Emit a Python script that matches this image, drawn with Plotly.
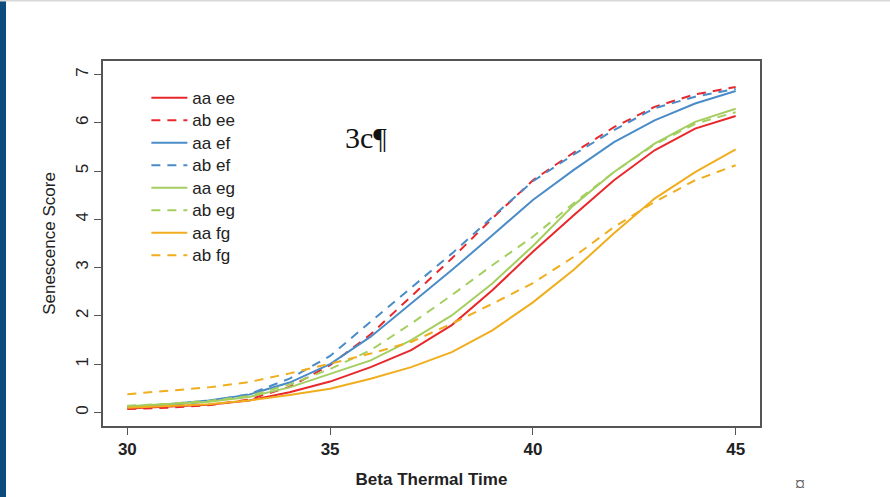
import plotly.graph_objects as go

x_vals = list(range(30, 46))

aa_ee = [0.08, 0.12, 0.16, 0.25, 0.42, 0.64, 0.94, 1.29, 1.81, 2.53, 3.33, 4.08, 4.81, 5.43, 5.88, 6.14]
ab_ee = [0.07, 0.10, 0.15, 0.27, 0.53, 0.98, 1.62, 2.40, 3.19, 4.02, 4.81, 5.38, 5.91, 6.33, 6.59, 6.74]
aa_ef = [0.12, 0.17, 0.25, 0.37, 0.62, 1.00, 1.57, 2.26, 2.95, 3.67, 4.40, 5.02, 5.60, 6.05, 6.40, 6.66]
ab_ef = [0.12, 0.15, 0.23, 0.38, 0.70, 1.17, 1.88, 2.58, 3.29, 4.05, 4.79, 5.34, 5.85, 6.30, 6.54, 6.70]
aa_eg = [0.13, 0.17, 0.22, 0.32, 0.52, 0.80, 1.08, 1.50, 2.01, 2.67, 3.45, 4.29, 4.98, 5.57, 6.02, 6.29]
ab_eg = [0.14, 0.18, 0.24, 0.34, 0.58, 0.90, 1.29, 1.84, 2.43, 3.05, 3.64, 4.33, 4.98, 5.55, 5.98, 6.22]
aa_fg = [0.10, 0.13, 0.17, 0.25, 0.36, 0.49, 0.70, 0.94, 1.25, 1.70, 2.28, 2.95, 3.71, 4.43, 4.98, 5.45]
ab_fg = [0.38, 0.45, 0.52, 0.63, 0.81, 1.01, 1.22, 1.46, 1.84, 2.25, 2.68, 3.22, 3.84, 4.36, 4.81, 5.12]

series_names = ["aa ee", "ab ee", "aa ef", "ab ef", "aa eg", "ab eg", "aa fg", "ab fg"]
series_values = [aa_ee, ab_ee, aa_ef, ab_ef, aa_eg, ab_eg, aa_fg, ab_fg]
series_colors = ["#E8282C", "#E8282C", "#4A8CC8", "#4A8CC8", "#A4CF60", "#A4CF60", "#F0AE1E", "#F0AE1E"]
series_dash = ["solid", "9px,7px", "solid", "9px,7px", "solid", "9px,7px", "solid", "9px,7px"]

x_ticks = [30, 35, 40, 45]
y_ticks = [0, 1, 2, 3, 4, 5, 6, 7]

fig = go.Figure()
for name, vals, col, dash in zip(series_names, series_values, series_colors, series_dash):
    fig.add_trace(go.Scatter(x=x_vals, y=vals, mode="lines",
                             name='<span style="font-size:17px">' + name + '</span>',
                             line=dict(color=col, width=2, dash=dash)))

axis_col = "#555555"
font_fam = "Liberation Sans, Arial, sans-serif"

fig.update_layout(
    width=890, height=497,
    margin=dict(l=103, r=130, t=61, b=71),
    paper_bgcolor="white", plot_bgcolor="white",
    font=dict(family=font_fam, size=17, color="#222222"),
    showlegend=True,
    legend=dict(x=0.066, y=0.944, xanchor="left", yanchor="top",
                bgcolor="rgba(0,0,0,0)", borderwidth=0,
                font=dict(family=font_fam, size=15, color="#222222"),
                tracegroupgap=0, itemwidth=36),
    xaxis=dict(range=[29.4, 45.6], tickvals=x_ticks, ticktext=[str(t) for t in x_ticks],
               showgrid=False, zeroline=False, showline=True, mirror=True,
               linecolor=axis_col, linewidth=1.5, ticks="outside", ticklen=7,
               tickwidth=1.3, tickcolor=axis_col,
               tickfont=dict(family=font_fam, size=17, color="#222222", weight="bold"),
               title=dict(text="Beta Thermal Time", standoff=15,
                          font=dict(family=font_fam, size=17, color="#222222", weight="bold"))),
    yaxis=dict(range=[-0.28, 7.28], tickvals=y_ticks, ticktext=[str(t) for t in y_ticks],
               showgrid=False, zeroline=False, showline=True, mirror=True,
               linecolor=axis_col, linewidth=1.5, ticks="outside", ticklen=7,
               tickwidth=1.3, tickcolor=axis_col, tickangle=-90, ticklabelstandoff=-1,
               tickfont=dict(family=font_fam, size=17, color="#222222"),
               title=dict(text="Senescence Score", standoff=14,
                          font=dict(family=font_fam, size=17, color="#222222"))),
    annotations=[
        dict(text="3c¶", xref="paper", yref="paper", x=0.365, y=0.79,
             xanchor="left", yanchor="middle", showarrow=False,
             font=dict(family="Liberation Serif, Times New Roman, serif", size=30, color="#111111")),
        dict(text="¤", xref="paper", yref="paper", x=1.061, y=-0.159,
             xanchor="center", yanchor="middle", showarrow=False,
             font=dict(family="Liberation Serif, Times New Roman, serif", size=20, color="#555555")),
    ],
    shapes=[
        dict(type="rect", xref="paper", yref="paper", x0=-103/657, x1=-97/657,
             y0=-71/365, y1=426/365, fillcolor="#0B4C7C", line=dict(width=0), layer="above"),
        dict(type="line", xref="paper", yref="paper", x0=-103/657, x1=787/657,
             y0=425.5/365, y1=425.5/365, line=dict(color="#D8D8D8", width=2)),
    ],
)

fig.write_html("out.html")
